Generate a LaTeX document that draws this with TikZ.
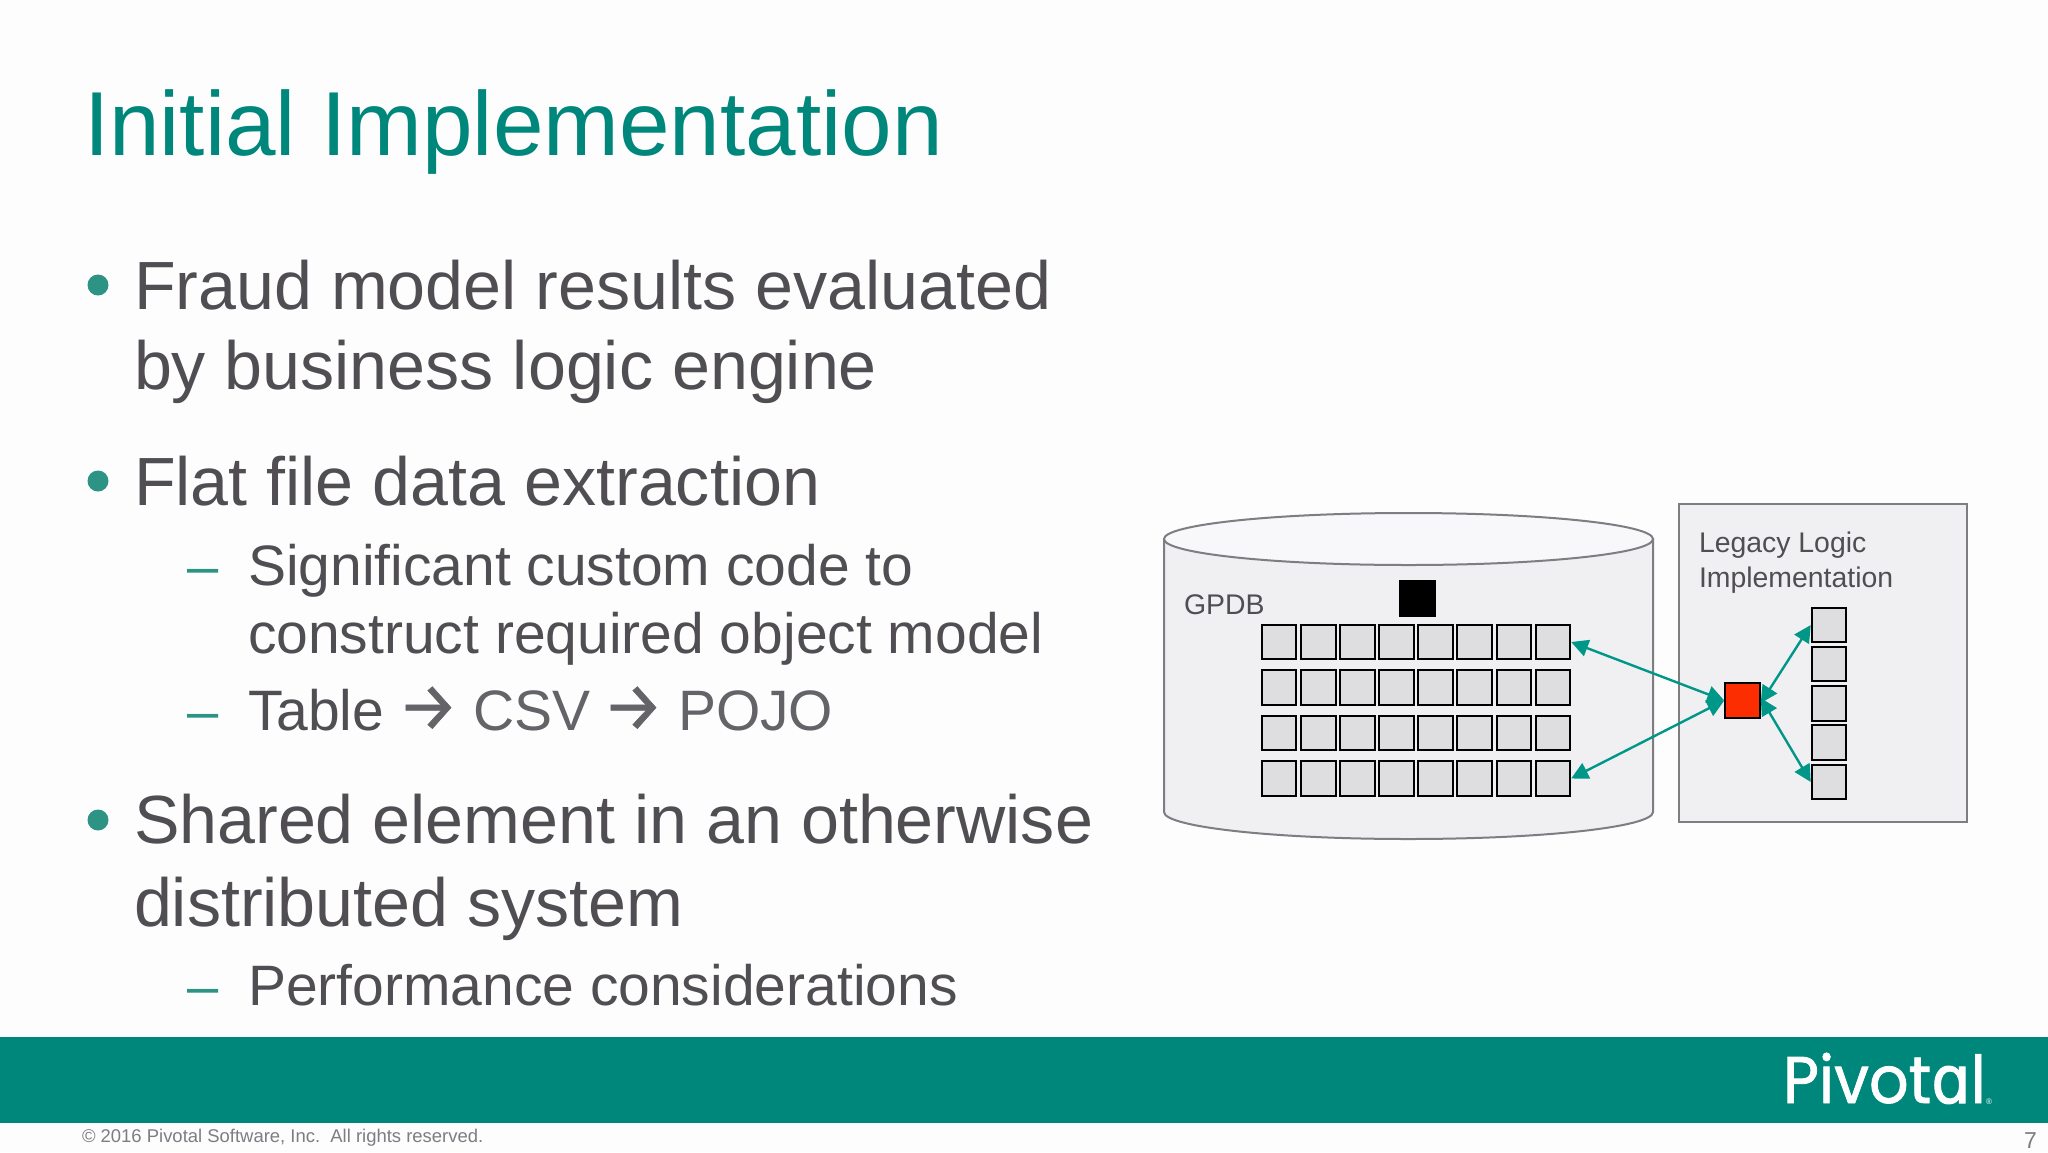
\documentclass[tikz,border=0pt]{standalone}
\usepackage{fontspec}
\setmainfont{Liberation Sans}
\newfontfamily\symfont[FakeBold=0.8]{Fira Sans}
\newfontfamily\logofont[FakeBold=1.2]{Poppins}
\newfontfamily\logoalpha[FakeBold=1.6]{DejaVu Sans}
\definecolor{teal1}{RGB}{0,135,124}
\definecolor{teal2}{RGB}{0,150,136}
\definecolor{bulletc}{RGB}{45,148,133}
\definecolor{txt}{RGB}{80,78,82}
\definecolor{txtl}{RGB}{100,100,104}
\definecolor{panel}{RGB}{240,240,243}
\definecolor{cell}{RGB}{222,222,225}
\definecolor{edge}{RGB}{125,125,130}
\definecolor{bg}{RGB}{253,253,254}
\definecolor{lid}{RGB}{248,248,250}
\definecolor{redbox}{RGB}{252,45,0}
\usetikzlibrary{arrows.meta}
\newcommand{\bigarrow}{{\symfont\fontsize{68}{68}\selectfont→}}
\tikzset{
  x=1pt,y=-1pt,
  lbl/.style={anchor=base west,inner sep=0pt,outer sep=0pt,text=txt},
  h1/.style={lbl,font=\fontsize{68.2}{68}\selectfont},
  h2/.style={lbl,font=\fontsize{57}{56}\selectfont},
  small/.style={lbl,font=\fontsize{28.4}{28}\selectfont},
  dashmark/.style={lbl,text=bulletc,font=\fontsize{56}{56}\selectfont},
  bulletdot/.style={circle,fill=bulletc,inner sep=0pt,minimum size=21pt},
  cellbox/.style={draw=black,line width=2pt,fill=cell,inner sep=0pt,minimum width=34.5pt,minimum height=34.5pt},
  conn/.style={teal2,line width=2.4pt,{Triangle[length=17pt,width=17pt]}-{Triangle[length=17pt,width=17pt]}},
}
\begin{document}
\begin{tikzpicture}
\useasboundingbox (0,0) rectangle (2048,1152);
\fill[bg] (0,0) rectangle (2048,1152);
% title
\node[lbl,text=teal1,font=\fontsize{90.9}{90.5}\selectfont] (title) at (84,155) {Initial Implementation};
% bullets
\node[bulletdot] (b1) at (98,285) {};
\node[h1] (t1a) at (134,309.5) {Fraud model results evaluated};
\node[h1] (t1b) at (134,389.5) {by business logic engine};
\node[bulletdot] (b2) at (98,481) {};
\node[h1] (t2) at (134,505.5) {Flat file data extraction};
\node[dashmark] (d1) at (187,585) {–};
\node[h2] (t3a) at (248,585) {Significant custom code to};
\node[h2] (t3b) at (248,653) {construct required object model};
\node[dashmark] (d2) at (187,730) {–};
\node[h2] (t4) at (248,730) {\makebox[149.5pt][l]{Table}\color{txtl}\makebox[75.5pt][l]{\bigarrow}\makebox[129.5pt][l]{CSV}\makebox[75.5pt][l]{\bigarrow}POJO};
\node[bulletdot] (b3) at (98,820) {};
\node[h1] (t5a) at (134,843.5) {Shared element in an otherwise};
\node[h1] (t5b) at (134,926.5) {distributed system};
\node[dashmark] (d3) at (187,1005) {–};
\node[h2] (t6) at (248,1005) {Performance considerations};
% cylinder
\draw[edge,line width=2pt,fill=panel] (1164,539) -- (1164,812) arc[start angle=180,end angle=0,x radius=244.5,y radius=27] -- (1653,539) -- cycle;
\draw[edge,line width=2pt,fill=lid] (1408.5,539) ellipse [x radius=244.5,y radius=26];
\node[small] (gpdb) at (1184,614) {GPDB};
\node[draw=black,fill=black,inner sep=0pt,minimum width=36pt,minimum height=36pt] (blk) at (1417,598) {};
\foreach \r/\y in {1/642,2/687.5,3/733,4/778.5}
  \foreach \c in {1,...,8}
    \node[cellbox] (g\r\c) at ({1279.2+(\c-1)*39.1},\y) {};
% legacy box
\draw[edge,line width=2pt,fill=panel] (1678.5,504) rectangle (1966.5,821.5);
\node[small] (leg1) at (1699,552.5) {Legacy Logic};
\node[small] (leg2) at (1699,587) {Implementation};
\foreach \i/\y in {1/625,2/664,3/703.3,4/742.6,5/782}
  \node[cellbox] (s\i) at (1829,\y) {};
\node[cellbox,fill=redbox] (red) at (1742.5,700.5) {};
\coordinate (redTop) at ([yshift=-2.5pt]red.east);
\coordinate (redBot) at ([yshift=2.5pt]red.east);
\draw[conn] (g18.east) -- (red.west);
\draw[conn] (g48.east) -- (red.west);
\draw[conn] (redTop) -- (s1.west);
\draw[conn] (redBot) -- (s5.west);
% footer
\fill[teal1] (0,1036.7) rectangle (2048,1122.7);
\node[lbl,text=white,font=\fontsize{66}{66}\selectfont] (logo) at (1783,1103) {\scalebox{0.94}[1]{\logofont Pivot\logoalpha ɑ\logofont l}};
\node[lbl,text=white,font=\fontsize{8}{8}\selectfont] (reg) at (1986,1104) {®};
\node[lbl,text=edge,font=\fontsize{18.45}{18.5}\selectfont] (copy) at (82,1142.7) {© 2016 Pivotal Software, Inc.\ \ All rights reserved.};
\node[lbl,text=edge,font=\fontsize{23}{23}\selectfont] (num) at (2024,1148) {7};
\end{tikzpicture}
\end{document}
